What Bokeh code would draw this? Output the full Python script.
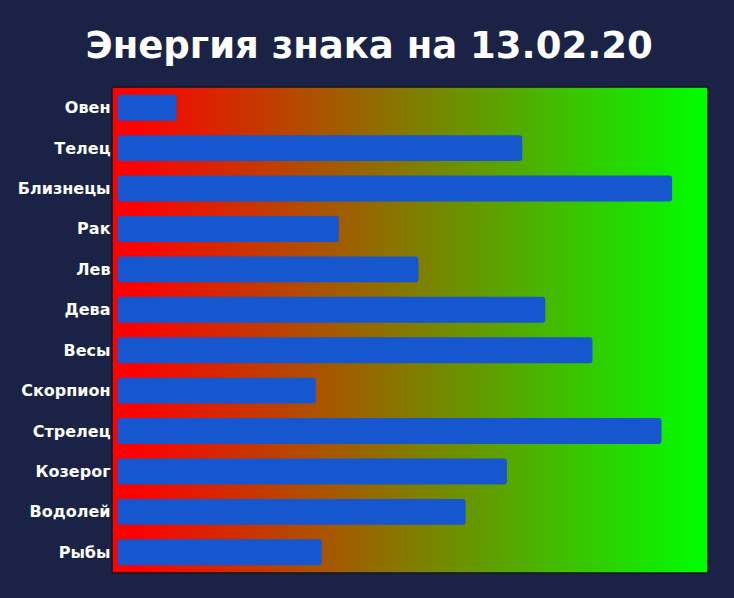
import numpy as np
from bokeh.plotting import figure
from bokeh.models import Range1d, Title, FixedTicker
from bokeh.embed import file_html
from bokeh.resources import INLINE

title_text = "Энергия знака на 13.02.20"
signs = ["Овен", "Телец", "Близнецы", "Рак", "Лев", "Дева", "Весы",
         "Скорпион", "Стрелец", "Козерог", "Водолей", "Рыбы"]
energy = [10.0, 68.6, 94.0, 37.5, 51.0, 72.5, 80.5, 33.6, 92.2, 66.0, 59.0, 34.6]

BG = "#1a2346"
BAR = "#1656cf"

pos = list(range(len(signs)))
ymin, ymax = -0.5, len(signs) - 0.5
xmin, xmax = -0.85, 100

p = figure(width=734, height=598, output_backend="svg", toolbar_location=None,
           y_range=Range1d(ymax, ymin),
           x_range=Range1d(xmin, xmax),
           min_border_left=112, min_border_right=27, min_border_top=85, min_border_bottom=26,
           background_fill_color=BG, border_fill_color=BG)

# gradient backdrop (red -> green)
n = 600
t = np.clip((np.linspace(0, 1, n) - 0.03) / 0.97, 0, 1)
r = (255 * (1 - t)).astype(np.uint32)
g = (255 * t).astype(np.uint32)
img = np.zeros((1, n), dtype=np.uint32)
img[0, :] = (255 << 24) | (g << 8) | r
p.image_rgba(image=[img], x=xmin, y=ymin, dw=xmax - xmin, dh=ymax - ymin)

p.hbar(y=pos, left=0, right=energy, height=0.64, fill_color=BAR,
       line_color=None, border_radius=3)

p.title = Title(text=title_text, align="left", offset=-27, text_font="DejaVu Sans",
                text_font_style="bold", text_font_size="37px", text_color="white",
                standoff=42)

p.xaxis.visible = False
p.xgrid.visible = False
p.ygrid.visible = False
p.yaxis.ticker = FixedTicker(ticks=pos)
p.yaxis.major_label_overrides = {i: s for i, s in zip(pos, signs)}
p.yaxis.axis_line_color = None
p.yaxis.major_tick_line_color = None
p.yaxis.minor_tick_line_color = None
p.yaxis.major_tick_in = 0
p.yaxis.major_tick_out = 0
p.yaxis.major_label_standoff = 2
p.yaxis.major_label_text_color = "white"
p.yaxis.major_label_text_font = "DejaVu Sans"
p.yaxis.major_label_text_font_style = "bold"
p.yaxis.major_label_text_font_size = "16px"

p.outline_line_color = "#111111"
p.outline_line_width = 2

html = file_html(p, INLINE, title=title_text)
html = html.replace("</head>", "<style>html, body { background-color: %s; }</style></head>" % BG, 1)
open("out.html", "w").write(html)
